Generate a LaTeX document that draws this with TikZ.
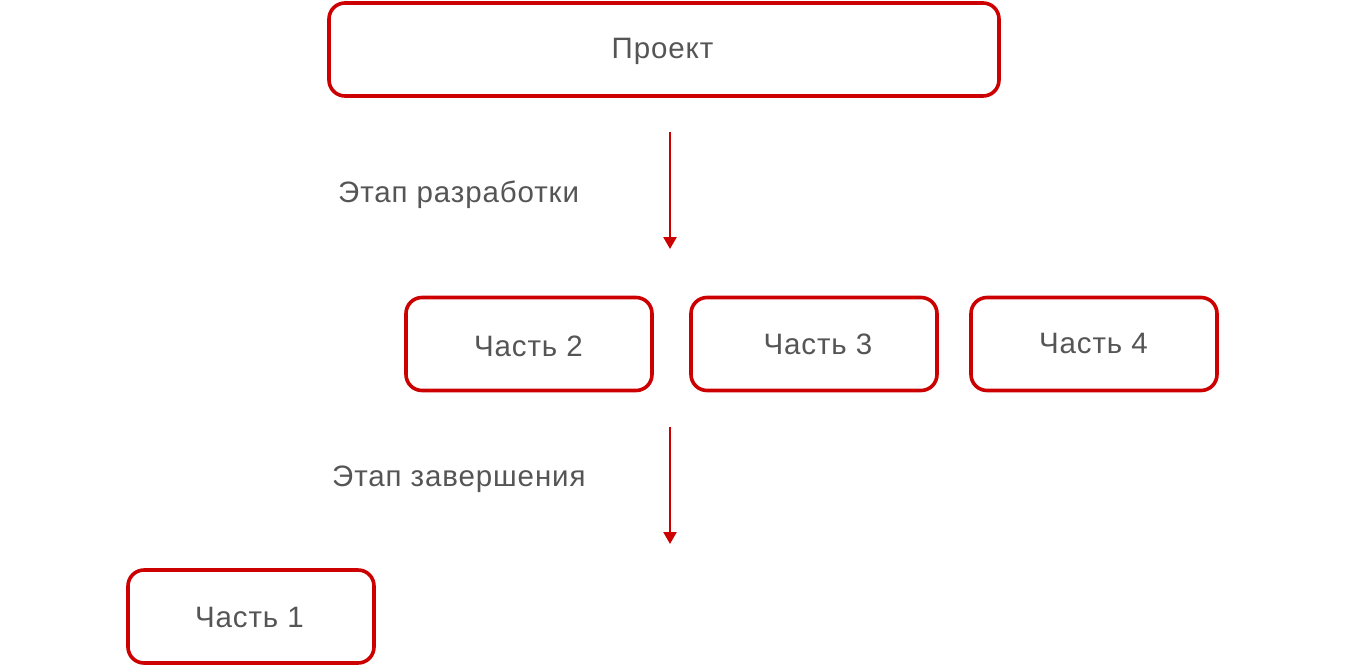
\documentclass[tikz,border=0pt]{standalone}
\usepackage{fontspec}
\setmainfont{Liberation Sans}
\usetikzlibrary{arrows.meta}
\definecolor{boxred}{HTML}{CC0000}
\definecolor{txtgray}{HTML}{555555}
\newfontfamily\lblfont[LetterSpace=3]{Liberation Sans}
\begin{document}
\begin{tikzpicture}[x=1pt,y=-1pt,
  box/.style={draw=boxred,line width=3.6pt,rounded corners=16pt,fill=white,
    minimum width=#1,minimum height=93pt,inner sep=0pt},
  box/.default=246pt,
  lbl/.style={text=txtgray,font=\lblfont\fontsize{29.5}{34}\selectfont,inner sep=0pt},
  flow/.style={draw=boxred,line width=2.5pt,-{Triangle[width=13pt,length=12pt]}}]
\useasboundingbox (0,0) rectangle (1345,665);
\node[box=670pt] (proj) at (664,49.5) {};
\node[box] (p2) at (529,344) {};
\node[box] (p3) at (814,344) {};
\node[box] (p4) at (1094,344) {};
\node[box] (p1) at (251,616.5) {};
\node[lbl,anchor=base] (tproj) at (662.5,58.3) {Проект};
\node[lbl,anchor=base] (tp2) at (528.5,356.7) {Часть 2};
\node[lbl,anchor=base] (tp3) at (818,354.5) {Часть 3};
\node[lbl,anchor=base] (tp4) at (1093.5,353) {Часть 4};
\node[lbl,anchor=base] (tp1) at (249.5,627.5) {Часть 1};
\coordinate (a1s) at (670,132);
\coordinate (a1e) at (670,249);
\coordinate (a2s) at (670,427);
\coordinate (a2e) at (670,544);
\draw[flow] (a1s) -- (a1e);
\draw[flow] (a2s) -- (a2e);
\node[lbl,anchor=base west] (l1) at (338,202.7) {Этап разработки};
\node[lbl,anchor=base west] (l2) at (332,486.5) {Этап завершения};
\end{tikzpicture}
\end{document}
